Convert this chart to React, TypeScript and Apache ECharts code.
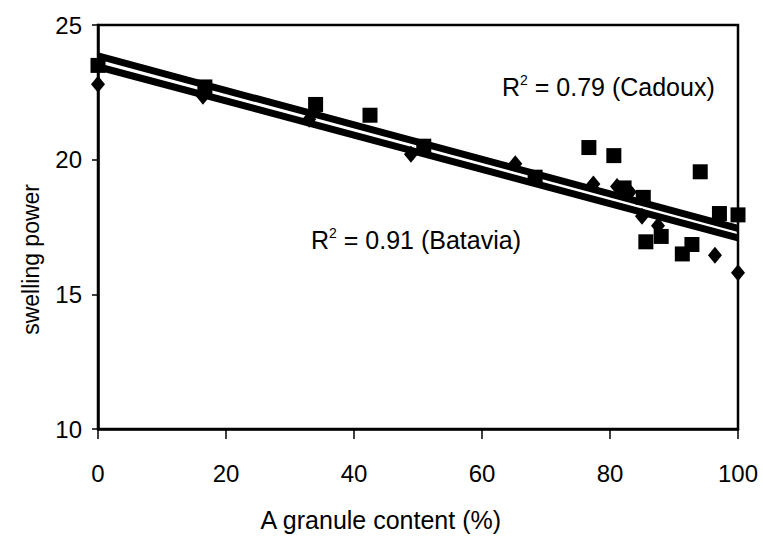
import React, { useEffect, useRef } from "react";
import * as echarts from "echarts";

// Cadoux (squares) measurements
const cadouxX = [0, 16.7, 34, 42.5, 50.9, 68.3, 76.7, 80.6, 82.2, 85.2, 85.6, 88.0, 91.3, 92.8, 94.1, 97.1, 100];
const cadouxY = [23.5, 22.7, 22.05, 21.65, 20.5, 19.35, 20.45, 20.15, 18.95, 18.6, 16.95, 17.15, 16.5, 16.85, 19.55, 18.0, 17.95];

// Batavia (diamonds) measurements
const bataviaX = [0, 16.4, 33, 48.9, 65.2, 77.4, 81.1, 83.1, 85.0, 87.5, 96.4, 100];
const bataviaY = [22.8, 22.35, 21.5, 20.2, 19.85, 19.1, 19.0, 18.8, 17.9, 17.55, 16.45, 15.8];

// Linear trend lines (end points at 0 % and 100 %)
const trendX = [0, 100];
const cadouxTrend = [23.85, 17.45];
const bataviaTrend = [23.45, 17.1];

const xTicks = [0, 20, 40, 60, 80, 100];
const yTicks = [10, 15, 20, 25];

const FONT = "'Liberation Sans', Arial, sans-serif";

export default function App() {
  const ref = useRef<HTMLDivElement>(null);

  useEffect(() => {
    if (!ref.current) return;
    const chart = echarts.init(ref.current, undefined, { renderer: "svg" });
    const pairs = (xs: number[], ys: number[]) => xs.map((x, i) => [x, ys[i]]);

    const richLabel = {
      m: { fontSize: 25, fontFamily: FONT, fill: "#000", lineHeight: 27 },
      s: { fontSize: 14, fontFamily: FONT, fill: "#000", verticalAlign: "top", lineHeight: 27 },
    };

    chart.setOption({
      animation: false,
      backgroundColor: "#fff",
      textStyle: { fontFamily: FONT, color: "#000" },
      grid: {
        left: 98,
        right: 25,
        top: 25,
        bottom: 116,
        show: true,
        borderColor: "#000",
        borderWidth: 2.5,
        backgroundColor: "transparent",
      },
      xAxis: {
        type: "value",
        min: xTicks[0],
        max: xTicks[xTicks.length - 1],
        interval: 20,
        splitLine: { show: false },
        axisLine: { lineStyle: { color: "#000", width: 2.5 } },
        axisTick: { inside: false, length: 10, lineStyle: { color: "#000", width: 1.5 } },
        axisLabel: {
          color: "#000",
          fontSize: 24,
          fontFamily: FONT,
          margin: 32,
        },
      },
      yAxis: {
        type: "value",
        min: yTicks[0],
        max: yTicks[yTicks.length - 1],
        interval: 5,
        splitLine: { show: false },
        axisLine: { lineStyle: { color: "#000", width: 2.5 } },
        axisTick: { inside: false, length: 6, lineStyle: { color: "#000", width: 1.5 } },
        axisLabel: {
          color: "#000",
          fontSize: 24,
          fontFamily: FONT,
          margin: 16,
        },
      },
      series: [
        {
          name: "Cadoux fit",
          type: "line",
          data: pairs(trendX, cadouxTrend),
          symbol: "none",
          lineStyle: { color: "#000", width: 7, opacity: 1 },
          z: 2,
        },
        {
          name: "Batavia fit",
          type: "line",
          data: pairs(trendX, bataviaTrend),
          symbol: "none",
          lineStyle: { color: "#000", width: 7, opacity: 1 },
          z: 2,
        },
        {
          name: "Cadoux",
          type: "scatter",
          data: pairs(cadouxX, cadouxY),
          symbol: "rect",
          symbolSize: 15,
          itemStyle: { color: "#000", opacity: 1 },
          z: 3,
        },
        {
          name: "Batavia",
          type: "scatter",
          data: pairs(bataviaX, bataviaY),
          symbol: "diamond",
          symbolSize: [14, 17],
          itemStyle: { color: "#000", opacity: 1 },
          z: 3,
        },
      ],
      graphic: [
        {
          type: "text",
          left: 19,
          top: 184,
          style: {
            text: "swelling power",
            fontSize: 23,
            fontFamily: FONT,
            fill: "#000",
          },
          rotation: Math.PI / 2,
        },
        {
          type: "text",
          left: "center",
          top: 507,
          style: {
            text: "A granule content (%)",
            fontSize: 25,
            fontFamily: FONT,
            fill: "#000",
          },
        },
        {
          type: "text",
          left: 502,
          top: 73,
          style: {
            text: "{m|R}{s|2}{m| = 0.79 (Cadoux)}",
            fontFamily: FONT,
            fill: "#000",
            rich: richLabel,
          },
        },
        {
          type: "text",
          left: 311,
          top: 226,
          style: {
            text: "{m|R}{s|2}{m| = 0.91 (Batavia)}",
            fontFamily: FONT,
            fill: "#000",
            rich: richLabel,
          },
        },
      ],
    });

    return () => chart.dispose();
  }, []);

  return (
    <div
      ref={ref}
      style={{ position: "fixed", left: 0, top: 0, width: 763, height: 545, background: "#fff" }}
    />
  );
}
